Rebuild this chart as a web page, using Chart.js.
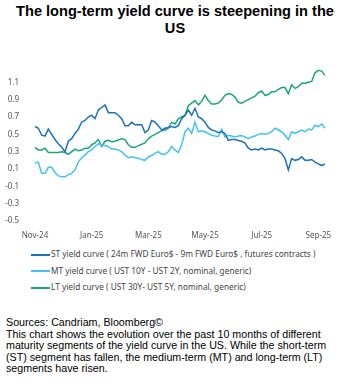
<!DOCTYPE html>
<html>
<head>
<meta charset="utf-8">
<script src="https://cdn.jsdelivr.net/npm/chart.js@4.4.1/dist/chart.umd.min.js"></script>
<style>
  body { margin: 0; width: 350px; height: 388px; background: #fff; position: relative; overflow: hidden; }
  #title { position: absolute; top: 3px; left: 0; width: 350px; text-align: center;
    font: bold 14.6px "Liberation Sans", Arial, sans-serif; line-height: 17px; color: #000; }
  #wrap { position: absolute; top: 50px; left: 0; width: 350px; height: 195px; }
  #legend { position: absolute; top: 246px; left: 31px; font: 8.3px "Noto Sans", sans-serif; color: #444; }
  #legend div { height: 16.5px; line-height: 16.5px; white-space: nowrap; }
  #legend span.ln { display: inline-block; width: 19px; height: 0; border-top: 2px solid; vertical-align: middle; margin-right: 1px; }
  #notes { position: absolute; top: 317px; left: 6px; font: 10.7px "Liberation Sans", Arial, sans-serif;
    line-height: 11.5px; color: #000; white-space: nowrap; }
</style>
</head>
<body>
<div id="title">The long-term yield curve is steepening in the<br>US</div>
<div id="wrap"><canvas id="chart" width="350" height="195"></canvas></div>
<div id="legend"></div>
<div id="notes">Sources: Candriam, Bloomberg©<br>This chart shows the evolution over the past 10 months of different<br>maturity segments of the yield curve in the US. While the short-term<br>(ST) segment has fallen, the medium-term (MT) and long-term (LT)<br>segments have risen.</div>
<script>
// series, Nov-24 .. early Sep-25
const stValues = [
  0.59, 0.57, 0.49, 0.48, 0.56, 0.50, 0.44, 0.39, 0.35, 0.30,
  0.42, 0.45, 0.51, 0.56, 0.64, 0.66, 0.70, 0.72, 0.68, 0.78,
  0.81, 0.84, 0.75, 0.75, 0.75, 0.72, 0.68, 0.60, 0.60, 0.64,
  0.61, 0.61, 0.61, 0.52, 0.55, 0.66, 0.64, 0.60, 0.55, 0.57,
  0.58, 0.59, 0.58,
  0.60, 0.68, 0.72, 0.78, 0.72, 0.80, 0.70, 0.68, 0.64, 0.58,
  0.55, 0.54, 0.52, 0.53, 0.51, 0.43, 0.44, 0.44, 0.43, 0.42,
  0.40, 0.34, 0.32, 0.33, 0.32, 0.34, 0.32, 0.33, 0.33, 0.32,
  0.31, 0.28, 0.22, 0.09, 0.22, 0.20, 0.21, 0.24, 0.20, 0.20,
  0.21, 0.18, 0.16, 0.14, 0.16
];
const mtValues = [
  0.17, 0.18, 0.05, 0.05, 0.12, 0.12, 0.06, 0.02, 0.01, 0.01,
  0.035, 0.05, 0.09, 0.18, 0.23, 0.26, 0.30, 0.32, 0.36, 0.39,
  0.38, 0.37, 0.36, 0.33, 0.33, 0.32, 0.30, 0.26, 0.23, 0.24,
  0.23, 0.225, 0.21, 0.20, 0.24, 0.255, 0.28, 0.30, 0.27, 0.27,
  0.30, 0.36, 0.32,
  0.29, 0.38, 0.53, 0.57, 0.51, 0.64, 0.53, 0.54, 0.53, 0.51,
  0.49, 0.48, 0.475, 0.56, 0.47, 0.49, 0.48, 0.47, 0.48, 0.485,
  0.47, 0.45, 0.47, 0.48, 0.50, 0.51, 0.50, 0.51, 0.53, 0.57,
  0.55, 0.53, 0.49, 0.44, 0.53, 0.51, 0.53, 0.55, 0.53, 0.56,
  0.55, 0.605, 0.59, 0.62, 0.57
];
const ltValues = [
  0.35, 0.32, 0.32, 0.34, 0.29, 0.29, 0.29, 0.29, 0.30, 0.29,
  0.27, 0.30, 0.33, 0.31, 0.32, 0.34, 0.34, 0.38, 0.40, 0.44,
  0.36, 0.42, 0.43, 0.415, 0.42, 0.435, 0.45, 0.44, 0.38, 0.35,
  0.35, 0.37, 0.385, 0.40, 0.45, 0.48, 0.50, 0.52, 0.54, 0.55,
  0.57, 0.64, 0.62,
  0.68, 0.70, 0.72, 0.83, 0.86, 0.89, 0.84, 0.88, 0.95, 0.89,
  0.85, 0.85, 0.86, 0.90, 0.95, 0.97, 0.96, 0.93, 0.87, 0.86,
  0.88, 0.90, 0.92, 0.94, 0.98, 1.00, 0.95, 0.96, 0.99, 0.99,
  1.02, 1.04, 1.04, 0.97, 1.07, 1.03, 1.05, 1.09, 1.09, 1.10,
  1.11, 1.21, 1.24, 1.23, 1.18
];
const seriesNames = [
  'ST yield curve ( 24m FWD Euro$ - 9m FWD Euro$ , futures contracts )',
  'MT yield curve ( UST 10Y - UST 2Y, nominal, generic)',
  'LT yield curve ( UST 30Y- UST 5Y, nominal, generic)'
];
const seriesColors = ['#1c71bd', '#45c1f2', '#19a67a'];
const xTickLabels = ['Nov-24', 'Jan-25', 'Mar-25', 'May-25', 'Jul-25', 'Sep-25'];
const xTickIndex = [0, 17, 34, 51, 68, 85];
const yTicks = [-0.5, -0.3, -0.1, 0.1, 0.3, 0.5, 0.7, 0.9, 1.1];

const labels = stValues.map((_, i) => i);
const tickFont = { family: 'Noto Sans', size: 8 };

const datasets = [stValues, mtValues, ltValues].map((vals, i) => ({
  label: seriesNames[i],
  data: vals,
  borderColor: seriesColors[i],
  backgroundColor: seriesColors[i],
  borderWidth: 1.5,
  pointRadius: 0,
  tension: 0
}));

new Chart(document.getElementById('chart'), {
  type: 'line',
  data: { labels: labels, datasets: datasets },
  options: {
    responsive: false,
    animation: false,
    layout: { padding: { top: 15, right: 25, left: 0, bottom: 0 } },
    plugins: { legend: { display: false }, tooltip: { enabled: false } },
    scales: {
      x: {
        grid: { display: false },
        border: { display: false },
        ticks: {
          autoSkip: false,
          maxRotation: 0,
          padding: 2,
          color: '#555',
          font: tickFont,
          callback: (v, i) => {
            const k = xTickIndex.indexOf(i);
            return k >= 0 ? xTickLabels[k] : '';
          }
        },
        afterFit: (s) => { s.height = 24; }
      },
      y: {
        min: -0.5,
        max: 1.3,
        grid: { display: false },
        border: { display: false },
        ticks: {
          stepSize: 0.2,
          padding: 8,
          color: '#555',
          font: tickFont,
          callback: (v) => {
            const r = Math.round(v * 10) / 10;
            return yTicks.includes(r) ? r.toFixed(1) : '';
          }
        },
        afterFit: (s) => { s.width = 35; }
      }
    }
  }
});

// legend
const legend = document.getElementById('legend');
seriesNames.forEach((name, i) => {
  const row = document.createElement('div');
  const ln = document.createElement('span');
  ln.className = 'ln';
  ln.style.borderColor = seriesColors[i];
  row.appendChild(ln);
  row.appendChild(document.createTextNode(name));
  legend.appendChild(row);
});
</script>
</body>
</html>
